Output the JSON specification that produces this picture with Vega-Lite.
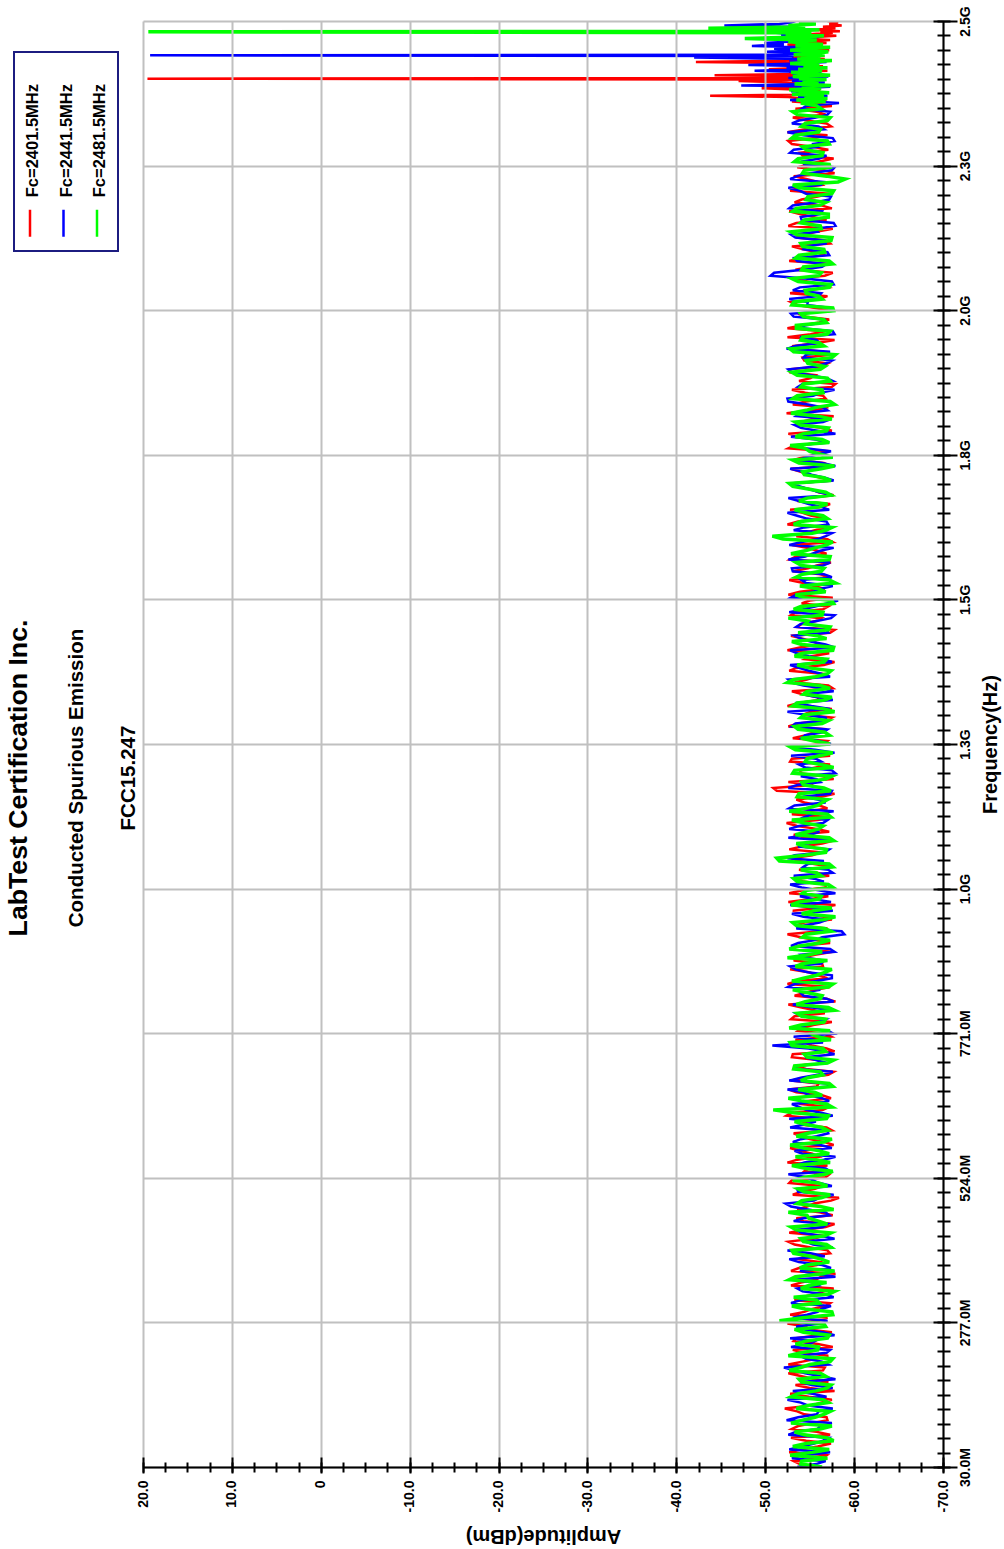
{
"$schema": "https://vega.github.io/schema/vega-lite/v6.json",
"width": 800, "height": 1446,
"autosize": {"type": "none"},
"padding": {"left": 143, "top": 21, "right": 61, "bottom": 82},
"background": "white",
"config": {"view": {"stroke": null}, "font": "Liberation Sans",
  "axis": {"labelFont": "Liberation Sans", "titleFont": "Liberation Sans", "labelColor": "black", "titleColor": "black", "labelFontSize": 14, "labelFontWeight": "bold", "titleFontWeight": "bold", "labelOverlap": false, "labelFlush": false, "labelBound": false}},
"title": {"text": "LabTest Certification Inc.", "subtitle": ["Conducted Spurious Emission", "FCC15.247"], "orient": "left", "anchor": "middle", "font": "Liberation Sans", "subtitleFont": "Liberation Sans", "fontSize": 26.7, "fontWeight": "bold", "subtitleFontSize": 20.5, "subtitleFontWeight": "bold", "subtitleLineHeight": 52, "subtitlePadding": 34, "offset": -126, "dx": -34, "color": "black", "subtitleColor": "black"},
"resolve": {"axis": {"x": "independent", "y": "independent"}},
"layer": [
{
"data": {"values": [
{"f":30,"r":-55.1,"b":-53.6,"g":-56.4},{"f":40,"r":-53.2,"b":-56.8,"g":-54.1},{"f":50,"r":-56.9,"b":-54.3,"g":-52.8},{"f":60,"r":-54.0,"b":-52.7,"g":-57.2},{"f":70,"r":-57.4,"b":-55.5,"g":-54.6},{"f":80,"r":-52.9,"b":-57.1,"g":-56.9},{"f":90,"r":-55.8,"b":-53.4,"g":-53.3},{"f":100,"r":-53.7,"b":-56.2,"g":-57.5},{"f":110,"r":-57.0,"b":-52.4,"g":-54.2},{"f":120,"r":-54.4,"b":-55.8,"g":-56.6},{"f":130,"r":-52.2,"b":-57.6,"g":-53.5},{"f":140,"r":-56.3,"b":-54.0,"g":-57.1},{"f":150,"r":-54.9,"b":-56.9,"g":-52.9},{"f":160,"r":-57.8,"b":-53.1,"g":-55.7},{"f":170,"r":-53.4,"b":-55.2,"g":-57.4},{"f":180,"r":-55.6,"b":-57.9,"g":-53.8},{"f":190,"r":-52.6,"b":-54.5,"g":-56.2},{"f":200,"r":-56.7,"b":-52.1,"g":-54.0},{"f":210,"r":-54.2,"b":-56.4,"g":-57.3},{"f":220,"r":-57.1,"b":-53.9,"g":-52.6},{"f":230,"r":-53.1,"b":-57.3,"g":-55.9},{"f":240,"r":-55.9,"b":-55.0,"g":-53.4},{"f":250,"r":-53.5,"b":-52.8,"g":-57.0},{"f":260,"r":-57.5,"b":-56.6,"g":-54.3},{"f":270,"r":-54.6,"b":-53.5,"g":-56.8},{"f":280,"r":-56.1,"b":-57.0,"g":-51.6},{"f":290,"r":-52.8,"b":-54.7,"g":-57.6},{"f":300,"r":-55.3,"b":-56.3,"g":-54.5},{"f":310,"r":-57.3,"b":-52.9,"g":-56.1},{"f":320,"r":-54.1,"b":-57.7,"g":-53.2},{"f":330,"r":-56.6,"b":-54.2,"g":-57.8},{"f":340,"r":-52.9,"b":-56.0,"g":-54.9},{"f":350,"r":-55.7,"b":-53.0,"g":-52.7},{"f":360,"r":-57.9,"b":-55.6,"g":-56.5},{"f":370,"r":-53.8,"b":-57.4,"g":-53.9},{"f":380,"r":-56.2,"b":-53.8,"g":-57.2},{"f":390,"r":-54.5,"b":-56.7,"g":-55.1},{"f":400,"r":-57.0,"b":-52.5,"g":-53.0},{"f":410,"r":-53.3,"b":-55.4,"g":-56.9},{"f":420,"r":-55.4,"b":-57.8,"g":-54.0},{"f":430,"r":-52.7,"b":-54.1,"g":-57.4},{"f":440,"r":-56.8,"b":-56.5,"g":-52.9},{"f":450,"r":-54.3,"b":-53.2,"g":-56.0},{"f":460,"r":-57.6,"b":-57.2,"g":-54.7},{"f":470,"r":-53.6,"b":-54.8,"g":-57.7},{"f":480,"r":-55.5,"b":-52.3,"g":-53.6},{"f":490,"r":-58.3,"b":-56.1,"g":-56.3},{"f":500,"r":-54.0,"b":-53.7,"g":-54.4},{"f":510,"r":-56.4,"b":-57.5,"g":-57.0},{"f":520,"r":-53.0,"b":-55.3,"g":-53.1},{"f":530,"r":-57.2,"b":-52.6,"g":-56.7},{"f":540,"r":-54.8,"b":-56.8,"g":-54.6},{"f":550,"r":-52.5,"b":-54.4,"g":-57.3},{"f":560,"r":-56.0,"b":-57.9,"g":-53.4},{"f":570,"r":-53.9,"b":-53.3,"g":-56.1},{"f":580,"r":-57.7,"b":-56.2,"g":-52.8},{"f":590,"r":-55.0,"b":-54.0,"g":-57.5},{"f":600,"r":-53.2,"b":-57.1,"g":-54.8},{"f":610,"r":-56.9,"b":-52.8,"g":-56.4},{"f":620,"r":-54.7,"b":-55.7,"g":-53.3},{"f":630,"r":-52.4,"b":-57.6,"g":-57.1},{"f":640,"r":-56.5,"b":-54.6,"g":-50.9},{"f":650,"r":-54.1,"b":-53.0,"g":-56.9},{"f":660,"r":-57.4,"b":-56.4,"g":-52.6},{"f":670,"r":-53.5,"b":-54.3,"g":-55.6},{"f":680,"r":-55.8,"b":-57.3,"g":-57.6},{"f":690,"r":-52.9,"b":-52.7,"g":-54.0},{"f":700,"r":-57.1,"b":-55.9,"g":-56.5},{"f":710,"r":-54.6,"b":-53.6,"g":-53.2},{"f":720,"r":-56.3,"b":-57.0,"g":-57.0},{"f":730,"r":-53.0,"b":-54.5,"g":-54.7},{"f":740,"r":-57.8,"b":-56.6,"g":-56.8},{"f":750,"r":-55.2,"b":-50.8,"g":-53.0},{"f":760,"r":-53.4,"b":-55.5,"g":-57.4},{"f":770,"r":-56.7,"b":-57.7,"g":-55.2},{"f":780,"r":-54.2,"b":-53.9,"g":-52.7},{"f":790,"r":-57.5,"b":-56.0,"g":-56.6},{"f":800,"r":-53.3,"b":-54.2,"g":-54.1},{"f":810,"r":-55.6,"b":-57.4,"g":-57.8},{"f":820,"r":-52.6,"b":-53.1,"g":-53.5},{"f":830,"r":-56.9,"b":-56.9,"g":-56.2},{"f":840,"r":-54.5,"b":-54.0,"g":-54.8},{"f":850,"r":-57.3,"b":-52.6,"g":-57.1},{"f":860,"r":-53.7,"b":-55.8,"g":-53.0},{"f":870,"r":-55.9,"b":-57.5,"g":-55.8},{"f":880,"r":-52.8,"b":-53.4,"g":-57.5},{"f":890,"r":-56.4,"b":-56.3,"g":-54.3},{"f":900,"r":-54.0,"b":-54.7,"g":-52.5},{"f":910,"r":-57.6,"b":-57.8,"g":-56.4},{"f":920,"r":-53.6,"b":-52.9,"g":-53.9},{"f":930,"r":-55.7,"b":-55.6,"g":-57.3},{"f":940,"r":-52.5,"b":-58.9,"g":-54.6},{"f":950,"r":-57.0,"b":-53.5,"g":-56.7},{"f":960,"r":-54.4,"b":-56.1,"g":-53.1},{"f":970,"r":-56.6,"b":-54.3,"g":-57.9},{"f":980,"r":-53.1,"b":-57.6,"g":-55.4},{"f":990,"r":-57.9,"b":-52.8,"g":-52.9},{"f":1000,"r":-55.0,"b":-55.4,"g":-56.1},{"f":1010,"r":-52.7,"b":-57.9,"g":-54.2},{"f":1020,"r":-56.8,"b":-54.1,"g":-57.6},{"f":1030,"r":-54.3,"b":-56.6,"g":-53.6},{"f":1040,"r":-57.2,"b":-53.2,"g":-56.3},{"f":1050,"r":-53.8,"b":-57.1,"g":-54.0},{"f":1060,"r":-55.5,"b":-54.8,"g":-57.2},{"f":1070,"r":-52.9,"b":-52.5,"g":-51.3},{"f":1080,"r":-56.2,"b":-56.7,"g":-56.8},{"f":1090,"r":-54.1,"b":-53.7,"g":-54.5},{"f":1100,"r":-57.7,"b":-57.4,"g":-57.7},{"f":1110,"r":-53.2,"b":-55.0,"g":-53.4},{"f":1120,"r":-55.8,"b":-52.7,"g":-56.0},{"f":1130,"r":-52.4,"b":-56.5,"g":-54.4},{"f":1140,"r":-57.4,"b":-54.4,"g":-57.4},{"f":1150,"r":-54.8,"b":-57.7,"g":-52.7},{"f":1160,"r":-56.1,"b":-53.3,"g":-55.9},{"f":1170,"r":-53.5,"b":-55.9,"g":-57.0},{"f":1180,"r":-57.8,"b":-57.3,"g":-53.8},{"f":1190,"r":-50.9,"b":-52.6,"g":-56.6},{"f":1200,"r":-52.6,"b":-56.2,"g":-54.1},{"f":1210,"r":-56.5,"b":-54.0,"g":-57.5},{"f":1220,"r":-54.0,"b":-57.5,"g":-53.3},{"f":1230,"r":-57.3,"b":-53.8,"g":-56.2},{"f":1240,"r":-53.0,"b":-55.7,"g":-54.7},{"f":1250,"r":-55.9,"b":-57.8,"g":-57.6},{"f":1260,"r":-52.8,"b":-52.9,"g":-52.8},{"f":1270,"r":-57.0,"b":-56.0,"g":-55.5},{"f":1280,"r":-54.6,"b":-54.5,"g":-57.2},{"f":1290,"r":-56.9,"b":-57.0,"g":-53.7},{"f":1300,"r":-53.7,"b":-53.4,"g":-56.4},{"f":1310,"r":-57.5,"b":-56.8,"g":-54.0},{"f":1320,"r":-55.1,"b":-52.5,"g":-57.8},{"f":1330,"r":-52.5,"b":-55.2,"g":-53.1},{"f":1340,"r":-56.0,"b":-57.6,"g":-56.7},{"f":1350,"r":-54.2,"b":-54.2,"g":-54.3},{"f":1360,"r":-57.6,"b":-56.4,"g":-57.3},{"f":1370,"r":-53.3,"b":-53.0,"g":-52.5},{"f":1380,"r":-55.7,"b":-57.3,"g":-55.7},{"f":1390,"r":-52.7,"b":-54.9,"g":-57.4},{"f":1400,"r":-56.6,"b":-52.8,"g":-53.6},{"f":1410,"r":-54.5,"b":-56.6,"g":-56.9},{"f":1420,"r":-57.2,"b":-53.6,"g":-54.2},{"f":1430,"r":-53.9,"b":-57.8,"g":-57.7},{"f":1440,"r":-55.4,"b":-55.1,"g":-53.0},{"f":1450,"r":-52.9,"b":-53.3,"g":-55.8},{"f":1460,"r":-57.8,"b":-56.9,"g":-57.1},{"f":1470,"r":-54.1,"b":-54.0,"g":-54.5},{"f":1480,"r":-56.3,"b":-57.4,"g":-52.6},{"f":1490,"r":-53.4,"b":-52.7,"g":-56.5},{"f":1500,"r":-57.1,"b":-55.6,"g":-54.0},{"f":1510,"r":-55.0,"b":-58.2,"g":-57.5},{"f":1520,"r":-52.6,"b":-53.5,"g":-53.4},{"f":1530,"r":-56.7,"b":-56.2,"g":-56.0},{"f":1540,"r":-54.3,"b":-54.6,"g":-57.9},{"f":1550,"r":-57.4,"b":-57.5,"g":-53.5},{"f":1560,"r":-53.1,"b":-53.1,"g":-56.3},{"f":1570,"r":-55.8,"b":-56.5,"g":-54.1},{"f":1580,"r":-52.8,"b":-52.6,"g":-57.2},{"f":1590,"r":-56.9,"b":-55.3,"g":-52.9},{"f":1600,"r":-54.7,"b":-57.7,"g":-55.6},{"f":1610,"r":-57.6,"b":-54.1,"g":-57.6},{"f":1620,"r":-53.5,"b":-56.8,"g":-50.8},{"f":1630,"r":-55.6,"b":-53.2,"g":-56.8},{"f":1640,"r":-52.5,"b":-57.1,"g":-53.2},{"f":1650,"r":-57.0,"b":-54.7,"g":-57.0},{"f":1660,"r":-54.2,"b":-52.5,"g":-54.6},{"f":1670,"r":-56.4,"b":-56.3,"g":-56.1},{"f":1680,"r":-53.6,"b":-53.8,"g":-53.8},{"f":1690,"r":-57.7,"b":-57.6,"g":-57.4},{"f":1700,"r":-55.2,"b":-55.0,"g":-55.0},{"f":1710,"r":-52.7,"b":-52.8,"g":-52.7},{"f":1720,"r":-56.1,"b":-56.7,"g":-56.6},{"f":1730,"r":-54.0,"b":-54.3,"g":-54.2},{"f":1740,"r":-57.3,"b":-57.9,"g":-57.8},{"f":1750,"r":-53.2,"b":-53.7,"g":-53.1},{"f":1760,"r":-55.9,"b":-56.0,"g":-56.2},{"f":1770,"r":-52.6,"b":-54.5,"g":-54.5},{"f":1780,"r":-56.8,"b":-57.2,"g":-57.2},{"f":1790,"r":-54.5,"b":-52.9,"g":-53.4},{"f":1800,"r":-57.5,"b":-55.9,"g":-56.9},{"f":1810,"r":-53.8,"b":-53.3,"g":-54.0},{"f":1820,"r":-55.3,"b":-57.4,"g":-57.5},{"f":1830,"r":-52.4,"b":-54.0,"g":-52.9},{"f":1840,"r":-57.1,"b":-56.5,"g":-55.7},{"f":1850,"r":-54.6,"b":-52.6,"g":-57.3},{"f":1860,"r":-56.5,"b":-55.4,"g":-53.6},{"f":1870,"r":-53.0,"b":-57.8,"g":-56.4},{"f":1880,"r":-57.9,"b":-54.2,"g":-54.3},{"f":1890,"r":-55.1,"b":-56.9,"g":-57.0},{"f":1900,"r":-52.8,"b":-53.0,"g":-53.0},{"f":1910,"r":-56.2,"b":-55.7,"g":-56.7},{"f":1920,"r":-54.4,"b":-57.5,"g":-54.6},{"f":1930,"r":-57.4,"b":-54.6,"g":-57.9},{"f":1940,"r":-53.4,"b":-52.4,"g":-52.8},{"f":1950,"r":-55.8,"b":-56.1,"g":-56.1},{"f":1960,"r":-52.5,"b":-53.9,"g":-54.2},{"f":1970,"r":-56.7,"b":-57.6,"g":-57.3},{"f":1980,"r":-54.1,"b":-54.4,"g":-53.5},{"f":1990,"r":-57.2,"b":-56.7,"g":-56.6},{"f":2000,"r":-53.7,"b":-52.9,"g":-54.0},{"f":2010,"r":-55.5,"b":-57.3,"g":-57.6},{"f":2020,"r":-52.9,"b":-54.8,"g":-53.2},{"f":2030,"r":-57.0,"b":-56.0,"g":-56.0},{"f":2040,"r":-54.8,"b":-53.1,"g":-54.5},{"f":2050,"r":-56.3,"b":-57.7,"g":-57.4},{"f":2060,"r":-53.2,"b":-54.5,"g":-53.0},{"f":2070,"r":-57.6,"b":-51.0,"g":-56.3},{"f":2080,"r":-55.0,"b":-56.4,"g":-54.3},{"f":2090,"r":-52.7,"b":-53.6,"g":-57.2},{"f":2100,"r":-56.6,"b":-57.2,"g":-53.8},{"f":2110,"r":-54.3,"b":-54.3,"g":-56.6},{"f":2120,"r":-57.3,"b":-56.8,"g":-54.0},{"f":2130,"r":-53.5,"b":-53.4,"g":-57.5},{"f":2140,"r":-55.7,"b":-55.9,"g":-52.9},{"f":2150,"r":-52.6,"b":-57.9,"g":-56.2},{"f":2160,"r":-56.9,"b":-54.1,"g":-54.4},{"f":2170,"r":-54.0,"b":-56.2,"g":-57.1},{"f":2180,"r":-57.5,"b":-52.7,"g":-53.5},{"f":2190,"r":-53.3,"b":-55.6,"g":-56.8},{"f":2200,"r":-55.9,"b":-57.4,"g":-54.8},{"f":2210,"r":-52.8,"b":-53.9,"g":-57.7},{"f":2220,"r":-56.4,"b":-56.3,"g":-53.1},{"f":2230,"r":-54.6,"b":-52.8,"g":-59.0},{"f":2240,"r":-57.8,"b":-55.0,"g":-54.2},{"f":2250,"r":-53.6,"b":-57.8,"g":-57.3},{"f":2260,"r":-56.1,"b":-54.2,"g":-53.3},{"f":2270,"r":-54.2,"b":-56.9,"g":-56.4},{"f":2280,"r":-57.1,"b":-53.2,"g":-54.6},{"f":2290,"r":-53.0,"b":-55.5,"g":-57.2},{"f":2300,"r":-55.6,"b":-57.6,"g":-53.0},{"f":2310,"r":-52.5,"b":-52.5,"g":-56.0},{"f":2320,"r":-57.4,"b":-56.0,"g":-54.1},{"f":2330,"r":-54.7,"b":-53.8,"g":-57.0},{"f":2340,"r":-56.8,"b":-57.0,"g":-53.6},{"f":2350,"r":-53.4,"b":-54.1,"g":-56.3},
{"f":35,"r":-53.9,"b":-55.7,"g":-54.0},{"f":45,"r":-56.4,"b":-53.0,"g":-57.0},{"f":55,"r":-52.7,"b":-57.3,"g":-55.3},{"f":65,"r":-55.9,"b":-54.1,"g":-53.1},{"f":75,"r":-54.6,"b":-56.5,"g":-57.7},{"f":85,"r":-57.3,"b":-52.6,"g":-54.4},{"f":95,"r":-53.0,"b":-55.9,"g":-56.2},{"f":105,"r":-55.4,"b":-57.5,"g":-52.9},{"f":115,"r":-56.9,"b":-53.7,"g":-55.6},{"f":125,"r":-53.6,"b":-56.0,"g":-57.3},{"f":135,"r":-55.2,"b":-54.8,"g":-54.8},{"f":145,"r":-57.5,"b":-52.5,"g":-56.5},{"f":155,"r":-52.8,"b":-55.3,"g":-53.6},{"f":165,"r":-55.0,"b":-57.6,"g":-57.0},{"f":175,"r":-57.1,"b":-54.0,"g":-54.1},{"f":185,"r":-54.1,"b":-56.3,"g":-56.8},{"f":195,"r":-56.5,"b":-53.3,"g":-52.7},{"f":205,"r":-52.6,"b":-57.1,"g":-55.0},{"f":215,"r":-55.7,"b":-54.6,"g":-57.6},{"f":225,"r":-54.3,"b":-56.9,"g":-53.9},{"f":235,"r":-57.6,"b":-52.9,"g":-56.0},{"f":245,"r":-53.2,"b":-55.6,"g":-54.5},{"f":255,"r":-56.0,"b":-57.8,"g":-57.2},{"f":265,"r":-54.8,"b":-54.4,"g":-53.3},{"f":275,"r":-52.5,"b":-56.2,"g":-56.6},{"f":285,"r":-57.0,"b":-53.1,"g":-54.2},{"f":295,"r":-54.4,"b":-55.9,"g":-57.5},{"f":305,"r":-56.8,"b":-57.4,"g":-53.0},{"f":315,"r":-53.3,"b":-54.0,"g":-55.8},{"f":325,"r":-55.5,"b":-56.7,"g":-57.1},{"f":335,"r":-57.7,"b":-53.6,"g":-54.0},{"f":345,"r":-54.0,"b":-55.5,"g":-56.9},{"f":355,"r":-56.3,"b":-57.9,"g":-53.4},{"f":365,"r":-52.9,"b":-53.9,"g":-57.8},{"f":375,"r":-55.8,"b":-56.4,"g":-54.7},{"f":385,"r":-53.7,"b":-52.7,"g":-56.3},{"f":395,"r":-57.3,"b":-55.1,"g":-53.2},{"f":405,"r":-55.1,"b":-57.6,"g":-57.4},{"f":415,"r":-52.6,"b":-54.5,"g":-54.3},{"f":425,"r":-56.6,"b":-56.2,"g":-56.7},{"f":435,"r":-54.2,"b":-53.5,"g":-53.5},{"f":445,"r":-57.8,"b":-57.0,"g":-57.0},{"f":455,"r":-53.5,"b":-54.3,"g":-54.9},{"f":465,"r":-56.1,"b":-56.8,"g":-52.6},{"f":475,"r":-54.7,"b":-52.9,"g":-56.2},{"f":485,"r":-57.4,"b":-55.5,"g":-54.1},{"f":495,"r":-53.1,"b":-57.7,"g":-57.3},{"f":505,"r":-55.6,"b":-53.6,"g":-53.7},{"f":515,"r":-52.7,"b":-56.1,"g":-56.0},{"f":525,"r":-56.8,"b":-54.7,"g":-54.5},{"f":535,"r":-54.4,"b":-57.3,"g":-57.6},{"f":545,"r":-57.0,"b":-53.4,"g":-53.0},{"f":555,"r":-53.6,"b":-56.6,"g":-55.7},{"f":565,"r":-55.3,"b":-54.2,"g":-57.2},{"f":575,"r":-52.8,"b":-57.5,"g":-54.3},{"f":585,"r":-56.7,"b":-53.1,"g":-56.6},{"f":595,"r":-54.0,"b":-55.8,"g":-53.5},{"f":605,"r":-57.5,"b":-57.0,"g":-57.0},{"f":615,"r":-53.9,"b":-54.4,"g":-54.6},{"f":625,"r":-55.8,"b":-52.7,"g":-56.9},{"f":635,"r":-53.0,"b":-56.3,"g":-53.2},{"f":645,"r":-57.2,"b":-53.8,"g":-57.5},{"f":655,"r":-54.6,"b":-57.2,"g":-54.2},{"f":665,"r":-56.4,"b":-55.0,"g":-56.4},{"f":675,"r":-52.6,"b":-52.5,"g":-53.7},{"f":685,"r":-56.0,"b":-56.9,"g":-57.2},{"f":695,"r":-54.3,"b":-54.0,"g":-54.8},{"f":705,"r":-57.7,"b":-57.6,"g":-56.2},{"f":715,"r":-53.4,"b":-53.4,"g":-53.3},{"f":725,"r":-55.9,"b":-55.7,"g":-57.7},{"f":735,"r":-53.1,"b":-57.8,"g":-54.4},{"f":745,"r":-56.9,"b":-54.9,"g":-56.5},{"f":755,"r":-54.5,"b":-56.5,"g":-52.8},{"f":765,"r":-57.4,"b":-53.2,"g":-55.9},{"f":775,"r":-53.7,"b":-57.1,"g":-57.3},{"f":785,"r":-55.4,"b":-54.6,"g":-54.0},{"f":795,"r":-52.9,"b":-56.8,"g":-56.8},{"f":805,"r":-56.7,"b":-53.5,"g":-53.6},{"f":815,"r":-54.1,"b":-55.3,"g":-57.1},{"f":825,"r":-57.9,"b":-57.7,"g":-54.5},{"f":835,"r":-53.3,"b":-54.3,"g":-56.4},{"f":845,"r":-55.7,"b":-56.2,"g":-53.1},{"f":855,"r":-52.5,"b":-53.3,"g":-57.6},{"f":865,"r":-57.0,"b":-57.5,"g":-54.3},{"f":875,"r":-54.9,"b":-54.8,"g":-56.7},{"f":885,"r":-56.5,"b":-52.8,"g":-53.4},{"f":895,"r":-53.2,"b":-56.6,"g":-57.0},{"f":905,"r":-55.6,"b":-54.1,"g":-54.9},{"f":915,"r":-52.8,"b":-57.3,"g":-52.7},{"f":925,"r":-57.3,"b":-53.7,"g":-56.1},{"f":935,"r":-54.0,"b":-56.4,"g":-54.2},{"f":945,"r":-56.2,"b":-58.6,"g":-57.4},{"f":955,"r":-53.5,"b":-54.4,"g":-53.5},{"f":965,"r":-57.5,"b":-57.0,"g":-56.6},{"f":975,"r":-54.7,"b":-53.0,"g":-54.1},{"f":985,"r":-56.0,"b":-55.9,"g":-57.5},{"f":995,"r":-52.6,"b":-57.4,"g":-53.8},{"f":1005,"r":-57.1,"b":-53.9,"g":-56.3},{"f":1015,"r":-54.2,"b":-56.0,"g":-54.7},{"f":1025,"r":-56.8,"b":-52.8,"g":-57.1},{"f":1035,"r":-53.3,"b":-55.5,"g":-53.2},{"f":1045,"r":-55.8,"b":-57.6,"g":-55.8},{"f":1055,"r":-57.6,"b":-54.3,"g":-57.6},{"f":1065,"r":-53.8,"b":-56.6,"g":-51.6},{"f":1075,"r":-55.3,"b":-53.3,"g":-54.4},{"f":1085,"r":-52.7,"b":-57.2,"g":-56.9},{"f":1095,"r":-56.4,"b":-54.6,"g":-53.5},{"f":1105,"r":-54.6,"b":-52.6,"g":-57.2},{"f":1115,"r":-57.2,"b":-56.1,"g":-54.8},{"f":1125,"r":-53.6,"b":-53.8,"g":-56.5},{"f":1135,"r":-55.9,"b":-57.0,"g":-53.0},{"f":1145,"r":-53.0,"b":-55.2,"g":-57.0},{"f":1155,"r":-57.0,"b":-52.7,"g":-54.6},{"f":1165,"r":-54.4,"b":-56.8,"g":-56.4},{"f":1175,"r":-56.3,"b":-54.2,"g":-53.6},{"f":1185,"r":-51.3,"b":-57.5,"g":-57.4},{"f":1195,"r":-55.4,"b":-53.6,"g":-54.3},{"f":1205,"r":-57.7,"b":-55.8,"g":-56.8},{"f":1215,"r":-53.9,"b":-57.9,"g":-53.1},{"f":1225,"r":-55.7,"b":-54.5,"g":-57.7},{"f":1235,"r":-52.8,"b":-56.3,"g":-54.5},{"f":1245,"r":-57.3,"b":-52.9,"g":-56.1},{"f":1255,"r":-54.5,"b":-55.6,"g":-53.4},{"f":1265,"r":-56.6,"b":-57.4,"g":-57.3},{"f":1275,"r":-53.1,"b":-54.1,"g":-54.0},{"f":1285,"r":-55.5,"b":-56.5,"g":-56.7},{"f":1295,"r":-52.6,"b":-53.0,"g":-53.3},{"f":1305,"r":-56.8,"b":-56.9,"g":-57.1},{"f":1315,"r":-54.3,"b":-54.6,"g":-54.4},{"f":1325,"r":-57.5,"b":-57.3,"g":-56.6},{"f":1335,"r":-53.8,"b":-53.4,"g":-53.6},{"f":1345,"r":-55.9,"b":-55.9,"g":-57.5},{"f":1355,"r":-53.0,"b":-57.7,"g":-54.7},{"f":1365,"r":-57.1,"b":-54.3,"g":-56.2},{"f":1375,"r":-54.7,"b":-52.6,"g":-53.1},{"f":1385,"r":-56.4,"b":-56.3,"g":-57.0},{"f":1395,"r":-53.5,"b":-53.8,"g":-54.9},{"f":1405,"r":-57.8,"b":-57.5,"g":-56.6},{"f":1415,"r":-55.2,"b":-54.9,"g":-53.3},{"f":1425,"r":-52.5,"b":-52.8,"g":-57.6},{"f":1435,"r":-56.1,"b":-56.8,"g":-54.1},{"f":1445,"r":-54.2,"b":-54.0,"g":-56.9},{"f":1455,"r":-57.3,"b":-57.1,"g":-53.7},{"f":1465,"r":-53.6,"b":-53.5,"g":-57.3},{"f":1475,"r":-55.7,"b":-55.8,"g":-54.8},{"f":1485,"r":-52.9,"b":-57.8,"g":-56.4},{"f":1495,"r":-56.5,"b":-54.2,"g":-53.2},{"f":1505,"r":-54.1,"b":-56.9,"g":-57.7},{"f":1515,"r":-57.6,"b":-52.9,"g":-54.4},{"f":1525,"r":-53.9,"b":-55.4,"g":-56.8},{"f":1535,"r":-55.5,"b":-57.6,"g":-53.9},{"f":1545,"r":-52.7,"b":-54.1,"g":-57.2},{"f":1555,"r":-56.2,"b":-56.6,"g":-54.2},{"f":1565,"r":-54.8,"b":-53.0,"g":-56.6},{"f":1575,"r":-57.4,"b":-57.3,"g":-53.5},{"f":1585,"r":-53.4,"b":-54.5,"g":-57.3},{"f":1595,"r":-55.9,"b":-56.2,"g":-54.5},{"f":1605,"r":-53.0,"b":-52.7,"g":-56.9},{"f":1615,"r":-57.0,"b":-55.9,"g":-52.0},{"f":1625,"r":-54.4,"b":-57.5,"g":-55.3},{"f":1635,"r":-56.9,"b":-54.4,"g":-57.5},{"f":1645,"r":-53.7,"b":-56.9,"g":-54.0},{"f":1655,"r":-55.2,"b":-53.6,"g":-56.5},{"f":1665,"r":-52.8,"b":-57.2,"g":-53.3},{"f":1675,"r":-57.3,"b":-54.9,"g":-57.0},{"f":1685,"r":-54.6,"b":-52.6,"g":-54.7},{"f":1695,"r":-56.0,"b":-56.1,"g":-56.8},{"f":1705,"r":-53.5,"b":-53.9,"g":-53.1},{"f":1715,"r":-57.6,"b":-57.7,"g":-57.4},{"f":1725,"r":-55.0,"b":-55.2,"g":-54.4},{"f":1735,"r":-52.9,"b":-52.8,"g":-56.3},{"f":1745,"r":-56.6,"b":-56.4,"g":-53.8},{"f":1755,"r":-54.3,"b":-54.6,"g":-57.6},{"f":1765,"r":-57.2,"b":-57.4,"g":-55.0},{"f":1775,"r":-53.3,"b":-53.1,"g":-52.8},{"f":1785,"r":-55.8,"b":-55.7,"g":-56.4},{"f":1795,"r":-52.6,"b":-57.9,"g":-54.3},{"f":1805,"r":-56.3,"b":-54.0,"g":-57.1},{"f":1815,"r":-54.0,"b":-56.5,"g":-53.4},{"f":1825,"r":-57.7,"b":-53.5,"g":-56.0},{"f":1835,"r":-55.4,"b":-57.0,"g":-54.6},{"f":1845,"r":-53.1,"b":-54.8,"g":-57.8},{"f":1855,"r":-56.8,"b":-52.5,"g":-53.1},{"f":1865,"r":-54.5,"b":-56.2,"g":-56.5},{"f":1875,"r":-57.5,"b":-53.7,"g":-54.0},{"f":1885,"r":-53.8,"b":-57.6,"g":-57.3},{"f":1895,"r":-55.6,"b":-55.1,"g":-53.6},{"f":1905,"r":-52.7,"b":-52.6,"g":-56.2},{"f":1915,"r":-57.0,"b":-56.8,"g":-54.8},{"f":1925,"r":-54.2,"b":-54.3,"g":-57.5},{"f":1935,"r":-56.5,"b":-57.3,"g":-53.2},{"f":1945,"r":-53.2,"b":-53.4,"g":-56.6},{"f":1955,"r":-57.8,"b":-55.8,"g":-54.0},{"f":1965,"r":-55.1,"b":-57.8,"g":-57.0},{"f":1975,"r":-52.5,"b":-54.1,"g":-53.5},{"f":1985,"r":-56.1,"b":-56.6,"g":-56.9},{"f":1995,"r":-54.6,"b":-53.2,"g":-54.3},{"f":2005,"r":-57.3,"b":-57.4,"g":-57.7},{"f":2015,"r":-53.6,"b":-54.7,"g":-53.0},{"f":2025,"r":-56.0,"b":-52.7,"g":-56.4},{"f":2035,"r":-52.8,"b":-56.3,"g":-54.6},{"f":2045,"r":-57.1,"b":-53.9,"g":-57.2},{"f":2055,"r":-54.7,"b":-57.5,"g":-53.7},{"f":2065,"r":-56.7,"b":-50.6,"g":-56.0},{"f":2075,"r":-53.4,"b":-54.2,"g":-54.1},{"f":2085,"r":-57.4,"b":-56.9,"g":-57.6},{"f":2095,"r":-54.0,"b":-53.3,"g":-53.4},{"f":2105,"r":-55.8,"b":-57.0,"g":-56.7},{"f":2115,"r":-53.0,"b":-54.5,"g":-54.2},{"f":2125,"r":-56.9,"b":-56.7,"g":-57.4},{"f":2135,"r":-54.4,"b":-52.9,"g":-53.6},{"f":2145,"r":-57.6,"b":-55.6,"g":-56.3},{"f":2155,"r":-53.5,"b":-57.7,"g":-54.0},{"f":2165,"r":-55.5,"b":-54.0,"g":-57.1},{"f":2175,"r":-52.7,"b":-56.4,"g":-53.1},{"f":2185,"r":-56.3,"b":-53.1,"g":-56.1},{"f":2195,"r":-54.1,"b":-57.2,"g":-54.6},{"f":2205,"r":-57.2,"b":-54.6,"g":-57.5},{"f":2215,"r":-53.8,"b":-52.6,"g":-53.8},{"f":2225,"r":-55.9,"b":-56.6,"g":-58.2},{"f":2235,"r":-53.2,"b":-53.6,"g":-56.9},{"f":2245,"r":-56.6,"b":-57.5,"g":-54.4},{"f":2255,"r":-54.8,"b":-54.4,"g":-57.2},{"f":2265,"r":-57.7,"b":-56.1,"g":-53.7},{"f":2275,"r":-53.9,"b":-52.8,"g":-56.5},{"f":2285,"r":-55.4,"b":-55.9,"g":-54.2},{"f":2295,"r":-52.6,"b":-57.8,"g":-57.0},{"f":2305,"r":-57.0,"b":-54.3,"g":-53.4},{"f":2315,"r":-54.5,"b":-56.6,"g":-56.2},{"f":2325,"r":-56.9,"b":-53.0,"g":-54.5},{"f":2335,"r":-53.1,"b":-55.7,"g":-57.3},{"f":2345,"r":-55.8,"b":-57.3,"g":-53.1},{"f":2355,"r":-57.5,"b":-54.6,"g":-55.8},
{"f":2360,"r":-55.5,"b":-58.3,"g":-54.0},{"f":2362.5,"r":-53.0,"b":-55.2,"g":-56.8},{"f":2365,"r":-56.9,"b":-52.8,"g":-53.5},{"f":2367.5,"r":-54.1,"b":-56.1,"g":-57.0},{"f":2370,"r":-52.6,"b":-53.7,"g":-54.4},{"f":2372.5,"r":-43.8,"b":-57.0,"g":-56.6},{"f":2375,"r":-55.8,"b":-54.3,"g":-53.0},{"f":2377.5,"r":-53.5,"b":-56.4,"g":-57.2},{"f":2380,"r":-56.2,"b":-52.9,"g":-54.5},{"f":2382.5,"r":-54.0,"b":-55.8,"g":-52.7},{"f":2385,"r":-49.6,"b":-53.4,"g":-56.3},{"f":2387.5,"r":-56.8,"b":-57.3,"g":-54.1},{"f":2390,"r":-53.3,"b":-47.3,"g":-57.4},{"f":2392.5,"r":-55.2,"b":-54.6,"g":-53.3},{"f":2395,"r":-52.4,"b":-56.7,"g":-56.0},{"f":2397.5,"r":-47.0,"b":-53.0,"g":-54.2},{"f":2400,"r":-53.8,"b":-55.9,"g":-56.9},{"f":2401.5,"r":19.5,"b":-54.3,"g":-53.8},{"f":2402.5,"r":-52.9,"b":-52.6,"g":-55.5},{"f":2405,"r":-56.4,"b":-57.1,"g":-53.1},{"f":2407.5,"r":-44.3,"b":-54.8,"g":-57.3},{"f":2410,"r":-55.1,"b":-53.1,"g":-54.6},{"f":2412.5,"r":-52.7,"b":-56.3,"g":-52.9},{"f":2415,"r":-57.0,"b":-48.8,"g":-56.4},{"f":2417.5,"r":-50.4,"b":-55.0,"g":-53.7},{"f":2420,"r":-54.6,"b":-52.4,"g":-57.0},{"f":2422.5,"r":-56.5,"b":-55.6,"g":-54.3},{"f":2425,"r":-53.2,"b":-48.1,"g":-56.1},{"f":2427.5,"r":-55.9,"b":-53.9,"g":-52.8},{"f":2430,"r":-42.2,"b":-56.9,"g":-55.4},{"f":2432.5,"r":-54.3,"b":-52.7,"g":-57.5},{"f":2435,"r":-56.7,"b":-55.4,"g":-53.6},{"f":2437.5,"r":-53.0,"b":-42.0,"g":-56.2},{"f":2440,"r":-55.4,"b":-53.2,"g":-54.0},{"f":2441.5,"r":-53.6,"b":19.2,"g":-56.7},{"f":2442.5,"r":-56.1,"b":-52.5,"g":-53.2},{"f":2445,"r":-52.8,"b":-56.2,"g":-55.9},{"f":2447.5,"r":-55.0,"b":-50.2,"g":-57.1},{"f":2450,"r":-57.2,"b":-53.8,"g":-52.8},{"f":2452.5,"r":-53.9,"b":-51.0,"g":-55.0},{"f":2455,"r":-56.3,"b":-54.9,"g":-57.3},{"f":2457.5,"r":-54.0,"b":-48.5,"g":-53.4},{"f":2460,"r":-52.5,"b":-52.1,"g":-56.5},{"f":2462.5,"r":-56.9,"b":-49.9,"g":-54.0},{"f":2465,"r":-54.5,"b":-53.0,"g":-52.6},{"f":2467.5,"r":-57.3,"b":-55.6,"g":-55.8},{"f":2470,"r":-53.6,"b":-52.6,"g":-47.7},{"f":2472.5,"r":-55.7,"b":-56.0,"g":-53.9},{"f":2475,"r":-58.0,"b":-51.8,"g":-56.6},{"f":2477.5,"r":-54.9,"b":-53.1,"g":-52.3},{"f":2480,"r":-57.6,"b":-51.2,"g":-55.2},{"f":2481.5,"r":-56.2,"b":-52.4,"g":19.4},{"f":2482.5,"r":-58.4,"b":-50.9,"g":-53.0},{"f":2485,"r":-55.3,"b":-52.0,"g":-56.1},{"f":2487.5,"r":-57.9,"b":-51.5,"g":-43.6},{"f":2490,"r":-56.5,"b":-52.8,"g":-54.5},{"f":2492.5,"r":-58.6,"b":-45.4,"g":-52.6},{"f":2495,"r":-57.2,"b":-51.6,"g":-55.7},{"f":2497.5,"r":-58.2,"b":-52.9,"g":-53.8},{"f":2500,"r":-57.0,"b":-53.4,"g":-55.0}
]},
"transform": [{"fold": ["r", "b", "g"], "as": ["s", "a"]}],
"mark": {"type": "line", "clip": true},
"encoding": {
  "x": {"field": "a", "type": "quantitative", "scale": {"domain": [-70, 20], "reverse": true, "nice": false, "zero": false},
    "axis": {"orient": "bottom", "values": [20, 10, 0, -10, -20, -30, -40, -50, -60, -70], "labelExpr": "datum.value == 0 ? '0' : (datum.value < 0 ? '-' : '') + format(abs(datum.value), '.1f')", "labelAngle": -90, "labelAlign": "right", "labelBaseline": "middle", "labelPadding": 13, "ticks": false, "domain": true, "domainColor": "black", "domainWidth": 2, "grid": true, "gridColor": "#c0c0c0", "gridWidth": 2, "title": "Amplitude(dBm)", "titleAngle": 180, "titleBaseline": "bottom", "titleFontSize": 20, "titlePadding": 14, "zindex": 1}},
  "y": {"field": "f", "type": "quantitative", "scale": {"domain": [30, 2500], "nice": false, "zero": false},
    "axis": {"orient": "right", "values": [30, 277, 524, 771, 1018, 1265, 1512, 1759, 2006, 2253, 2500], "labelExpr": "datum.value < 1000 ? format(datum.value, '.1f') + 'M' : format(datum.value / 1000, '.1f') + 'G'", "labelAngle": -90, "labelAlign": "center", "labelBaseline": "top", "labelPadding": 15, "ticks": false, "domain": true, "domainColor": "black", "domainWidth": 2, "grid": true, "gridColor": "#c0c0c0", "gridWidth": 2, "title": "Frequency(Hz)", "titleAngle": -90, "titleBaseline": "top", "titleFontSize": 20, "titlePadding": 8, "zindex": 1}},
  "color": {"field": "s", "type": "nominal", "scale": {"domain": ["r", "b", "g"], "range": ["#ff0000", "#0000ff", "#00ff00"]},
    "legend": {"orient": "none", "legendX": -129, "legendY": 31, "direction": "horizontal",
      "title": "\u00a0", "titleFontSize": 134, "titlePadding": 13, "titleFont": "Liberation Sans",
      "labelExpr": "datum.label == 'r' ? 'Fc=2401.5MHz' : datum.label == 'b' ? 'Fc=2441.5MHz' : 'Fc=2481.5MHz'",
      "labelFont": "Liberation Sans", "labelFontSize": 16.5, "labelFontWeight": "bold", "labelColor": "black", "labelLimit": 0,
      "symbolType": "M0,-1L0,1", "symbolSize": 729, "symbolStrokeWidth": 2.5, "symbolOffset": -8,
      "strokeColor": "#1c1c80", "fillColor": "white", "padding": 9, "columnPadding": 14.5,
      "encoding": {"labels": {"angle": {"value": -90}, "align": {"value": "left"}, "baseline": {"value": "middle"}, "dx": {"value": 26}, "dy": {"value": -16}}, "legend": {"strokeWidth": {"value": 2}}}}},
  "strokeWidth": {"condition": {"test": "datum.s == 'g'", "value": 3.5}, "value": 2.5},
  "order": {"field": "f", "type": "quantitative"}
}
},
{
"data": {"values": [{"a": 0, "f": 1000}]},
"mark": {"type": "point", "opacity": 0},
"encoding": {
  "x": {"field": "a", "type": "quantitative", "scale": {"domain": [-70, 20], "reverse": true, "nice": false, "zero": false},
    "axis": {"orient": "bottom", "offset": -10, "tickSize": 16, "tickWidth": 2, "tickColor": "black", "values": [20, 10, 0, -10, -20, -30, -40, -50, -60, -70], "labels": false, "domain": false, "grid": false, "title": null, "zindex": 2}},
  "y": {"field": "f", "type": "quantitative", "scale": {"domain": [30, 2500], "nice": false, "zero": false},
    "axis": {"orient": "right", "offset": -10, "tickSize": 24, "tickWidth": 2, "tickColor": "black", "values": [30, 277, 524, 771, 1018, 1265, 1512, 1759, 2006, 2253, 2500], "labels": false, "domain": false, "grid": false, "title": null, "zindex": 2}}
}
},
{
"data": {"values": [{"a": 0, "f": 1000}]},
"mark": {"type": "point", "opacity": 0},
"encoding": {
  "x": {"field": "a", "type": "quantitative", "scale": {"domain": [-70, 20], "reverse": true, "nice": false, "zero": false},
    "axis": {"orient": "bottom", "offset": -5, "tickSize": 10, "tickWidth": 2, "tickColor": "black", "values": [20, 17.5, 15, 12.5, 10, 7.5, 5, 2.5, 0, -2.5, -5, -7.5, -10, -12.5, -15, -17.5, -20, -22.5, -25, -27.5, -30, -32.5, -35, -37.5, -40, -42.5, -45, -47.5, -50, -52.5, -55, -57.5, -60, -62.5, -65, -67.5, -70], "labels": false, "domain": false, "grid": false, "title": null, "zindex": 2}},
  "y": {"field": "f", "type": "quantitative", "scale": {"domain": [30, 2500], "nice": false, "zero": false},
    "axis": {"orient": "right", "offset": -6, "tickSize": 13, "tickWidth": 2, "tickColor": "black", "values": [30, 54.7, 79.4, 104.1, 128.8, 153.5, 178.2, 202.9, 227.6, 252.3, 277, 301.7, 326.4, 351.1, 375.8, 400.5, 425.2, 449.9, 474.6, 499.3, 524, 548.7, 573.4, 598.1, 622.8, 647.5, 672.2, 696.9, 721.6, 746.3, 771, 795.7, 820.4, 845.1, 869.8, 894.5, 919.2, 943.9, 968.6, 993.3, 1018, 1042.7, 1067.4, 1092.1, 1116.8, 1141.5, 1166.2, 1190.9, 1215.6, 1240.3, 1265, 1289.7, 1314.4, 1339.1, 1363.8, 1388.5, 1413.2, 1437.9, 1462.6, 1487.3, 1512, 1536.7, 1561.4, 1586.1, 1610.8, 1635.5, 1660.2, 1684.9, 1709.6, 1734.3, 1759, 1783.7, 1808.4, 1833.1, 1857.8, 1882.5, 1907.2, 1931.9, 1956.6, 1981.3, 2006, 2030.7, 2055.4, 2080.1, 2104.8, 2129.5, 2154.2, 2178.9, 2203.6, 2228.3, 2253, 2277.7, 2302.4, 2327.1, 2351.8, 2376.5, 2401.2, 2425.9, 2450.6, 2475.3, 2500], "labels": false, "domain": false, "grid": false, "title": null, "zindex": 2}}
}
}
]
}
